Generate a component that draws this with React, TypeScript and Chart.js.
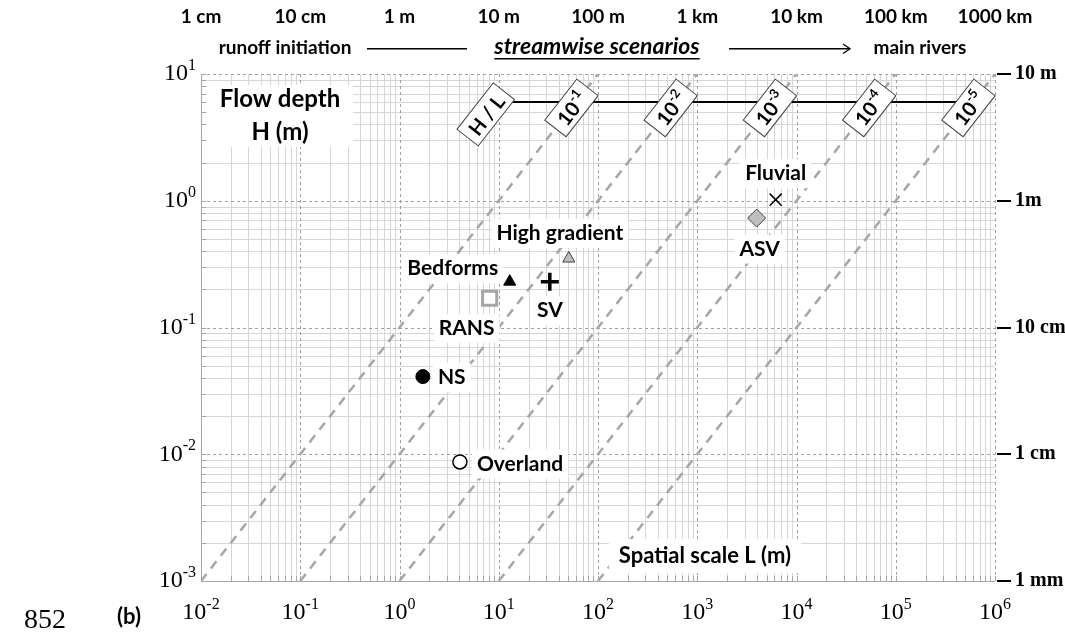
import React, { useEffect, useRef } from 'react';
import { Chart, registerables } from 'chart.js';

Chart.register(...registerables);

// ---------------- data ----------------
const xDecadeExponents = [-2, -1, 0, 1, 2, 3, 4, 5, 6];
const yDecadeExponents = [-3, -2, -1, 0, 1];
const topLengthLabels = ['1 cm', '10 cm', '1 m', '10 m', '100 m', '1 km', '10 km', '100 km', '1000 km'];
const rightDepthLabels = ['1 mm', '1 cm', '10 cm', '1m', '10 m'];
const ratioExponents = [-1, -2, -3, -4, -5];
const ratioLabelDepth = 5.4;
const headerLineDepth = 6.0;
const headerLineFrom = 7.6;
const headerLineTo = 5.6e5;
const ratioHeaderLength = 7.4;
const ratioHeaderDepth = 4.8;

const scenarioNames = ['NS', 'Overland', 'RANS', 'Bedforms', 'SV', 'High gradient', 'ASV', 'Fluvial'];
const scenarioLength = [1.72, 4.06, 8.1, 12.9, 32.7, 50.8, 3970, 6170];
const scenarioDepth = [0.041, 0.0087, 0.17, 0.23, 0.23, 0.35, 0.73, 1.02];

// ---------------- styles ----------------
const SANS = 'Lato, "Open Sans", sans-serif';
const SERIF = '"Liberation Serif", "DejaVu Serif", serif';

const markerStyles: any[] = [
  { pointStyle: 'circle', radius: 7, bg: '#000000', border: '#000000', bw: 1 },
  { pointStyle: 'circle', radius: 7, bg: '#ffffff', border: '#000000', bw: 1.5 },
  { pointStyle: 'rect', radius: 10, bg: '#ffffff', border: '#a6a6a6', bw: 3 },
  { pointStyle: 'triangle', radius: 7, bg: '#000000', border: '#000000', bw: 1 },
  { pointStyle: 'cross', radius: 9, bg: '#000000', border: '#000000', bw: 3.5 },
  { pointStyle: 'triangle', radius: 7, bg: '#bfbfbf', border: '#404040', bw: 1 },
  { pointStyle: 'rectRot', radius: 9, bg: '#bfbfbf', border: '#404040', bw: 1 },
  { pointStyle: 'crossRot', radius: 8.5, bg: '#000000', border: '#000000', bw: 1.5 },
];
// label placement relative to marker (pixels)
const labelPlacement: any[] = [
  { dx: 15, dy: 1, align: 'left' },
  { dx: 17, dy: 2, align: 'left' },
  { dx: -23, dy: 30, align: 'center' },
  { dx: -57, dy: -13, align: 'center' },
  { dx: 0, dy: 29, align: 'center' },
  { dx: -9, dy: -25, align: 'center' },
  { dx: 3, dy: 31, align: 'center' },
  { dx: 0, dy: -26, align: 'center' },
];

function boxedText(ctx: CanvasRenderingContext2D, text: string, x: number, y: number, size: number, align: string, padX = 5, padY = 4) {
  ctx.font = `bold ${size}px ${SANS}`;
  const w = ctx.measureText(text).width;
  const left = align === 'left' ? x : x - w / 2;
  ctx.fillStyle = '#ffffff';
  ctx.fillRect(left - padX, y - size / 2 - padY, w + 2 * padX, size + 2 * padY);
  ctx.fillStyle = '#000000';
  ctx.textAlign = 'left';
  ctx.textBaseline = 'middle';
  ctx.fillText(text, left, y);
}

function supText(ctx: CanvasRenderingContext2D, base: string, exp: string, x: number, y: number, baseFont: string, expFont: string, align: string, raise: number) {
  ctx.font = baseFont;
  const wb = ctx.measureText(base).width;
  ctx.font = expFont;
  const we = ctx.measureText(exp).width;
  const total = wb + we;
  const left = align === 'right' ? x - total : align === 'center' ? x - total / 2 : x;
  ctx.textAlign = 'left';
  ctx.textBaseline = 'middle';
  ctx.font = baseFont;
  ctx.fillText(base, left, y);
  ctx.font = expFont;
  ctx.fillText(exp, left + wb, y - raise);
}

function rotatedBox(ctx: CanvasRenderingContext2D, cx: number, cy: number, angle: number, base: string, exp: string) {
  ctx.save();
  ctx.translate(cx, cy);
  ctx.rotate(angle);
  const bf = `bold 20px ${SANS}`;
  const ef = `bold 13px ${SANS}`;
  ctx.font = bf;
  const wb = ctx.measureText(base).width;
  ctx.font = ef;
  const we = exp ? ctx.measureText(exp).width : 0;
  const tw = wb + we;
  const bw = Math.max(tw + 14, 52);
  const bh = 27;
  ctx.fillStyle = '#ffffff';
  ctx.strokeStyle = '#404040';
  ctx.lineWidth = 1;
  ctx.fillRect(-bw / 2, -bh / 2, bw, bh);
  ctx.strokeRect(-bw / 2, -bh / 2, bw, bh);
  ctx.fillStyle = '#000000';
  ctx.textAlign = 'left';
  ctx.textBaseline = 'middle';
  ctx.font = bf;
  ctx.fillText(base, -tw / 2, 2);
  if (exp) {
    ctx.font = ef;
    ctx.fillText(exp, -tw / 2 + wb, -5);
  }
  ctx.restore();
}

const chartPlugin = {
  id: 'flowScales',
  beforeDraw(chart: any) {
    const { ctx, width, height } = chart;
    ctx.save();
    ctx.fillStyle = '#ffffff';
    ctx.fillRect(0, 0, width, height);
    ctx.restore();
  },
  beforeDatasetsDraw(chart: any) {
    const { ctx, chartArea: a, scales } = chart;
    const xs = scales.x;
    const ys = scales.y;
    ctx.save();
    ctx.lineWidth = 1;
    const xMinor: number[] = [];
    const yMinor: number[] = [];
    xDecadeExponents.slice(0, -1).forEach((e) => {
      for (let k = 2; k <= 9; k++) xMinor.push(Math.round(xs.getPixelForValue(k * Math.pow(10, e))) + 0.5);
    });
    yDecadeExponents.slice(0, -1).forEach((e) => {
      for (let k = 2; k <= 9; k++) yMinor.push(Math.round(ys.getPixelForValue(k * Math.pow(10, e))) + 0.5);
    });
    const xMajor = xDecadeExponents.map((e) => Math.round(xs.getPixelForValue(Math.pow(10, e))) + 0.5);
    const yMajor = yDecadeExponents.map((e) => Math.round(ys.getPixelForValue(Math.pow(10, e))) + 0.5);
    ctx.strokeStyle = '#d6d6d6';
    ctx.beginPath();
    xMinor.forEach((px) => { ctx.moveTo(px, a.top); ctx.lineTo(px, a.bottom); });
    yMinor.forEach((py) => { ctx.moveTo(a.left, py); ctx.lineTo(a.right, py); });
    ctx.stroke();
    // small axis ticks
    ctx.strokeStyle = '#a6a6a6';
    ctx.beginPath();
    [...xMinor, ...xMajor].forEach((px) => { ctx.moveTo(px, a.bottom); ctx.lineTo(px, a.bottom - 5); });
    [...yMinor, ...yMajor].forEach((py) => { ctx.moveTo(a.left, py); ctx.lineTo(a.left + 5, py); });
    ctx.stroke();
    // major dotted
    ctx.setLineDash([3, 3]);
    ctx.strokeStyle = '#a0a0a0';
    ctx.beginPath();
    xMajor.slice(1).forEach((px) => { ctx.moveTo(px, a.top); ctx.lineTo(px, a.bottom); });
    yMajor.slice(1).forEach((py) => { ctx.moveTo(a.left, py); ctx.lineTo(a.right, py); });
    ctx.stroke();
    ctx.setLineDash([]);
    // axes
    ctx.strokeStyle = '#a6a6a6';
    ctx.beginPath();
    ctx.moveTo(xMajor[0], a.top);
    ctx.lineTo(xMajor[0], yMajor[0]);
    ctx.lineTo(a.right, yMajor[0]);
    ctx.stroke();
    ctx.restore();
  },
  afterDatasetDraw(chart: any, args: any) {
    const ds = chart.data.datasets[args.index];
    if (ds.role !== 'headerLine') return;
    const { ctx, chartArea: a, scales } = chart;
    const xs = scales.x;
    const ys = scales.y;
    ctx.save();
    // axis titles inside plot
    const fdX = a.left + 79;
    ctx.fillStyle = '#ffffff';
    ctx.fillRect(a.left + 6, a.top + 11, 146, 62);
    ctx.fillStyle = '#000000';
    ctx.font = `bold 24px ${SANS}`;
    ctx.textAlign = 'center';
    ctx.textBaseline = 'middle';
    ctx.fillText('Flow depth', fdX, a.top + 25);
    ctx.fillText('H (m)', fdX, a.top + 58);
    boxedText(ctx, 'Spatial scale L (m)', 705, a.bottom - 25, 22, 'center', 10, 6);
    // point labels
    scenarioNames.forEach((name, i) => {
      const px = xs.getPixelForValue(scenarioLength[i]);
      const py = ys.getPixelForValue(scenarioDepth[i]);
      const p = labelPlacement[i];
      boxedText(ctx, name, px + p.dx, py + p.dy, 21, p.align, 5, 4);
    });
    // ratio labels
    const angle = Math.atan2(
      ys.getPixelForValue(10) - ys.getPixelForValue(1),
      xs.getPixelForValue(10) - xs.getPixelForValue(1)
    );
    rotatedBox(ctx, xs.getPixelForValue(ratioHeaderLength), ys.getPixelForValue(ratioHeaderDepth), angle, 'H / L', '');
    ratioExponents.forEach((e) => {
      const L = ratioLabelDepth / Math.pow(10, e);
      rotatedBox(ctx, xs.getPixelForValue(L), ys.getPixelForValue(ratioLabelDepth), angle, '10', String(e));
    });
    ctx.restore();
  },
  afterDraw(chart: any) {
    const { ctx, chartArea: a, scales } = chart;
    const xs = scales.x;
    const ys = scales.y;
    ctx.save();
    const bf = `24px ${SERIF}`;
    const ef = `16px ${SERIF}`;
    ctx.fillStyle = '#000000';
    xDecadeExponents.forEach((e) => {
      supText(ctx, '10', String(e), xs.getPixelForValue(Math.pow(10, e)), a.bottom + 32, bf, ef, 'center', 8);
    });
    yDecadeExponents.forEach((e) => {
      supText(ctx, '10', String(e), a.left - 5, ys.getPixelForValue(Math.pow(10, e)), bf, ef, 'right', 8);
    });
    // right-hand depth labels
    ctx.font = `bold 20px ${SERIF}`;
    ctx.textAlign = 'left';
    ctx.textBaseline = 'middle';
    yDecadeExponents.forEach((e, i) => {
      const py = Math.round(ys.getPixelForValue(Math.pow(10, e)));
      ctx.fillRect(a.right + 2, py - 1, 14, 2);
      ctx.fillText(rightDepthLabels[i], a.right + 20, py);
    });
    // top length labels
    ctx.font = `bold 19px ${SANS}`;
    ctx.textAlign = 'center';
    xDecadeExponents.forEach((e, i) => {
      ctx.fillText(topLengthLabels[i], xs.getPixelForValue(Math.pow(10, e)), 17);
    });
    // scenario header row
    ctx.font = `bold 19px ${SANS}`;
    ctx.fillText('runoff initiation', 285, 48);
    ctx.fillText('main rivers', 920, 48);
    ctx.font = `italic bold 23px ${SANS}`;
    const sw = ctx.measureText('streamwise scenarios').width;
    const sc = 597;
    ctx.fillText('streamwise scenarios', sc, 47);
    ctx.fillRect(sc - sw / 2, 58, sw, 1.5);
    ctx.fillRect(367, 48, 100, 1.5);
    ctx.fillRect(729, 48, 121, 1.5);
    ctx.strokeStyle = '#000000';
    ctx.lineWidth = 1.3;
    ctx.beginPath();
    ctx.moveTo(843, 44);
    ctx.lineTo(850, 48.75);
    ctx.lineTo(843, 53.5);
    ctx.stroke();
    // page furniture
    ctx.font = `28px ${SERIF}`;
    ctx.textAlign = 'left';
    ctx.fillText('852', 24, 621);
    ctx.font = `bold 22px ${SANS}`;
    ctx.textAlign = 'center';
    ctx.fillText('(b)', 129, 617);
    ctx.restore();
  },
};

export default function App() {
  const ref = useRef<HTMLCanvasElement>(null);
  useEffect(() => {
    const canvas = ref.current;
    if (!canvas) return;
    const datasets: any[] = [];
    ratioExponents.forEach((e) => {
      const r = Math.pow(10, e);
      datasets.push({
        label: `H/L 1e${e}`,
        data: [
          { x: 1e-3 / r, y: 1e-3 },
          { x: 10 / r, y: 10 },
        ],
        showLine: true,
        borderColor: '#a6a6a6',
        borderWidth: 2.5,
        borderDash: [9, 7],
        pointRadius: 0,
        order: 3,
      });
    });
    datasets.push({
      label: 'header',
      role: 'headerLine',
      data: [
        { x: headerLineFrom, y: headerLineDepth },
        { x: headerLineTo, y: headerLineDepth },
      ],
      showLine: true,
      borderColor: '#000000',
      borderWidth: 2,
      pointRadius: 0,
      order: 2,
    });
    scenarioNames.forEach((name, i) => {
      const m = markerStyles[i];
      datasets.push({
        label: name,
        data: [{ x: scenarioLength[i], y: scenarioDepth[i] }],
        showLine: false,
        pointStyle: m.pointStyle,
        pointRadius: m.radius,
        pointBackgroundColor: m.bg,
        pointBorderColor: m.border,
        pointBorderWidth: m.bw,
        order: 1,
      });
    });
    const chart = new Chart(canvas, {
      type: 'scatter',
      data: { datasets },
      options: {
        animation: false,
        responsive: false,
        maintainAspectRatio: false,
        devicePixelRatio: 1,
        layout: { padding: { left: 201, right: 70, top: 74, bottom: 59 } },
        scales: {
          x: { type: 'logarithmic', min: 1e-2, max: 1e6, display: false },
          y: { type: 'logarithmic', min: 1e-3, max: 10, display: false },
        },
        plugins: { legend: { display: false }, tooltip: { enabled: false } },
        events: [],
      },
      plugins: [chartPlugin],
    } as any);
    return () => chart.destroy();
  }, []);
  return (
    <div style={{ position: 'fixed', left: 0, top: 0, width: 1065, height: 640, background: '#fff' }}>
      <canvas ref={ref} width={1065} height={640} style={{ width: 1065, height: 640, display: 'block' }} />
    </div>
  );
}
